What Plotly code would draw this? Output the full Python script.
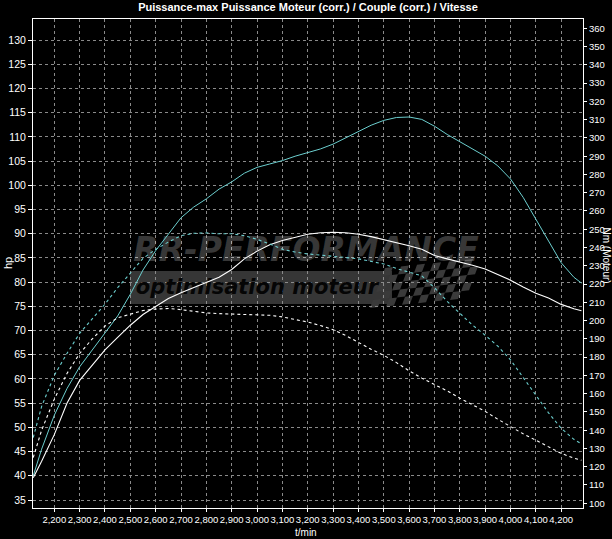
import plotly.graph_objects as go

# ---------------- data ----------------
rpm = [2117, 2150, 2200, 2250, 2300, 2350, 2400, 2450, 2500, 2550, 2600, 2650, 2700, 2750,
       2800, 2850, 2900, 2950, 3000, 3050, 3100, 3150, 3200, 3250, 3300, 3350, 3400, 3450,
       3500, 3550, 3600, 3650, 3700, 3750, 3800, 3850, 3900, 3950, 4000, 4050, 4100, 4150,
       4200, 4250, 4280]

power_tuned_hp = [40.0, 45.5, 52.5, 58.0, 62.5, 66.0, 69.5, 73.0, 77.5, 82.5, 86.5, 90.0, 93.3, 95.5,
                  97.2, 99.2, 100.7, 102.5, 103.7, 104.4, 105.1, 106.0, 106.8, 107.5, 108.5, 109.8,
                  111.2, 112.4, 113.4, 114.0, 114.1, 113.6, 112.2, 110.5, 109.0, 107.5, 106.0, 104.0,
                  101.3, 97.5, 93.0, 88.3, 84.0, 81.0, 79.8]

power_stock_hp = [39.6, 43.0, 48.5, 55.0, 59.7, 62.9, 66.0, 68.6, 71.1, 73.3, 75.0, 76.6, 77.8, 78.9,
                  79.9, 81.0, 82.6, 84.8, 86.4, 87.7, 88.6, 89.3, 89.9, 90.2, 90.3, 90.2, 89.9, 89.4,
                  88.8, 88.1, 87.5, 86.8, 85.5, 84.8, 84.2, 83.5, 82.7, 81.6, 80.4, 79.0, 77.7, 76.7,
                  75.4, 74.5, 74.1]

torque_tuned_nm = [136, 153, 170, 182, 193, 201, 209, 218, 226, 234, 239, 243, 246.5, 247.8,
                   248, 247.5, 247.5, 246.5, 244.5, 242, 239, 237.5, 236.5, 235.7, 235, 234.5,
                   233.8, 232.5, 231, 228.5, 226.5, 224.5, 218, 210.5, 204, 197.5, 192, 186,
                   178.5, 169, 159, 149.5, 141, 135, 132.5]

torque_stock_nm = [125, 140, 157, 171, 182, 190, 197, 201.5, 203.5, 205.5, 206.3, 206.6, 206, 205,
                   204.2, 203.8, 203.6, 203.5, 203.3, 202.9, 202, 200.8, 199.2, 197.3, 195, 191.8,
                   188, 184.3, 181, 177, 172.5, 168.5, 165, 161.5, 157.5, 153.8, 150.3, 146,
                   141.8, 138, 134.5, 131, 127.3, 124.7, 123.5]

x_ticks = list(range(2200, 4201, 100))
hp_ticks = list(range(35, 131, 5))
nm_ticks = list(range(100, 361, 10))

title_text = "Puissance-max Puissance Moteur (corr.) / Couple (corr.) / Vitesse"

# ---------------- geometry ----------------
W, H = 612, 539
L, R, T, B = 33, 583, 19, 508
X0, X1 = 2116, 4286
Y0, Y1 = 33.35, 134.34
N0, N1 = 97.4, 365.1

FONT = "Liberation Sans, Arial, sans-serif"
CYAN = "#6ccfcf"
GRID = "#8a8a8a"


def px2x(px):
    return X0 + (px - L) / (R - L) * (X1 - X0)


def py2y(py):
    return Y1 - (py - T) / (B - T) * (Y1 - Y0)


fig = go.Figure()

# watermark text (drawn first so the curves sit on top)
fig.add_trace(go.Scatter(
    x=[px2x(306)], y=[py2y(253)], mode="text", text=["RR-PERFORMANCE"],
    textfont=dict(family="DejaVu Sans, Liberation Sans, sans-serif", size=33,
                  color="rgba(255,255,255,0.22)", weight="bold", style="italic"),
    hoverinfo="skip", showlegend=False))
fig.add_trace(go.Scatter(
    x=[px2x(257)], y=[py2y(289)], mode="text", text=["optimisation moteur"],
    textfont=dict(family="DejaVu Sans, Liberation Sans, sans-serif", size=21,
                  color="#050505", weight="bold", style="italic"),
    hoverinfo="skip", showlegend=False))

# curves
fig.add_trace(go.Scatter(x=rpm, y=power_tuned_hp, mode="lines",
                         line=dict(color=CYAN, width=1), showlegend=False))
fig.add_trace(go.Scatter(x=rpm, y=power_stock_hp, mode="lines",
                         line=dict(color="white", width=1.1), showlegend=False))
fig.add_trace(go.Scatter(x=rpm, y=torque_tuned_nm, mode="lines", yaxis="y2",
                         line=dict(color=CYAN, width=1.1, dash="3px,3px"), showlegend=False))
fig.add_trace(go.Scatter(x=rpm, y=torque_stock_nm, mode="lines", yaxis="y2",
                         line=dict(color="white", width=1.1, dash="3px,3px"), showlegend=False))

# watermark band + checkered flag
shapes = [dict(type="rect", xref="x", yref="y", layer="below",
               x0=px2x(130), x1=px2x(392), y0=py2y(271), y1=py2y(304),
               fillcolor="#363636", line=dict(width=0))]
cell = 8
for r in range(5):
    for c in range(12):
        if (r + c) % 2:
            continue
        bx = 382 + c * cell - r * 3
        by = 268 + r * cell - (c * 0.8)
        if bx + cell > 482:
            continue
        path = "M {} {} L {} {} L {} {} L {} {} Z".format(
            px2x(bx + 3), py2y(by), px2x(bx + cell + 3), py2y(by - 1),
            px2x(bx + cell), py2y(by + cell - 1), px2x(bx), py2y(by + cell))
        shapes.append(dict(type="path", xref="x", yref="y", layer="below", path=path,
                           fillcolor="#3a3a3a", line=dict(width=0)))

yfont = dict(family=FONT, size=10.5, color="white")
y2font = dict(family=FONT, size=9.5, color="white")
xfont = dict(family=FONT, size=9.5, color="white")

fig.update_layout(
    width=W, height=H,
    paper_bgcolor="black", plot_bgcolor="black",
    margin=dict(l=L, r=W - R, t=T, b=H - B, pad=0, autoexpand=False),
    showlegend=False,
    shapes=shapes,
    title=dict(text="<b>" + title_text + "</b>", x=0.5, xref="paper", xanchor="center",
               y=1 - 7 / H, yref="container", yanchor="middle", automargin=False,
               font=dict(family=FONT, size=11, color="white")),
    xaxis=dict(range=[X0, X1], tickvals=x_ticks, tickformat=",d", tickfont=xfont,
               tickangle=0, automargin=False,
               showgrid=True, gridcolor=GRID, griddash="3px,3px", gridwidth=1,
               showline=True, linecolor="white", linewidth=1, mirror=True,
               ticks="outside", ticklen=3, tickcolor="white", zeroline=False),
    yaxis=dict(range=[Y0, Y1], tickvals=hp_ticks, tickfont=yfont, automargin=False,
               showgrid=True, gridcolor=GRID, griddash="3px,3px", gridwidth=1,
               showline=True, linecolor="white", linewidth=1, mirror=True,
               ticks="outside", ticklen=4, tickcolor="white", zeroline=False),
    yaxis2=dict(range=[N0, N1], tickvals=nm_ticks, tickfont=y2font, overlaying="y",
                side="right", showgrid=False, showline=True, linecolor="white", linewidth=1,
                automargin=False,
                ticks="outside", ticklen=3, tickcolor="white", zeroline=False),
    annotations=[
        dict(text="hp", xref="paper", yref="paper", x=(8 - L) / (R - L), y=(B - 263) / (B - T),
             xanchor="center", yanchor="middle",
             showarrow=False, textangle=-90, font=dict(family=FONT, size=11, color="white")),
        dict(text="Nm (Moteur)", xref="paper", yref="paper", x=(606.5 - L) / (R - L),
             y=(B - 255) / (B - T), showarrow=False, textangle=90,
             xanchor="center", yanchor="middle",
             font=dict(family=FONT, size=10, color="white")),
        dict(text="t/min", xref="paper", yref="paper", x=(306 - L) / (R - L),
             y=(B - 532) / (B - T), showarrow=False, xanchor="center", yanchor="middle",
             font=dict(family=FONT, size=10, color="white")),
    ],
)

fig.write_html(
    "out.html",
    config={"displayModeBar": False},
    post_script="document.body.style.margin='0';document.body.style.background='black';",
)
